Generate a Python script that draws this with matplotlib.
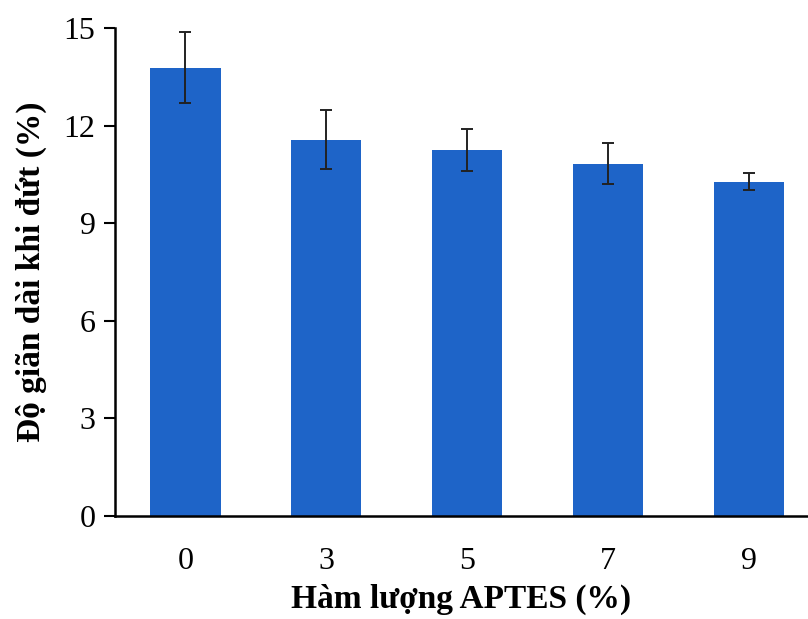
import numpy as np
import matplotlib.pyplot as plt

# APTES content (%) vs elongation at break (%)
categories = ['0', '3', '5', '7', '9']
values = [13.78, 11.57, 11.26, 10.83, 10.28]
errors = [1.10, 0.90, 0.65, 0.62, 0.27]

plt.rcParams['font.family'] = ['Liberation Serif', 'DejaVu Serif']

fig = plt.figure(figsize=(8.08, 6.19), dpi=100)
ax = fig.add_axes([0.1423, 0.1664, 0.8577, 0.7884])

x = np.arange(len(categories))
ax.bar(x, values, width=0.5, color='#1e64c8', zorder=2)
ax.errorbar(x, values, yerr=errors, fmt='none', ecolor='#222222',
            elinewidth=1.4, capsize=4.5, capthick=1.4, zorder=3)

ax.set_xlim(-0.5, 4.42)
ax.set_ylim(0, 15)
ax.set_yticks([0, 3, 6, 9, 12, 15])
ax.set_xticks(x)
ax.set_xticklabels(categories)

ax.spines['top'].set_visible(False)
ax.spines['right'].set_visible(False)
ax.spines['left'].set_linewidth(1.8)
ax.spines['bottom'].set_linewidth(1.8)
ax.tick_params(axis='y', direction='out', length=8, width=1.5, labelsize=23, pad=6)
ax.tick_params(axis='x', length=0, labelsize=23, pad=22)

ax.set_xlabel('Hàm lượng APTES (%)', fontsize=24, fontweight='bold', labelpad=6)
ax.set_ylabel('Độ giãn dài khi đứt (%)', fontsize=24, fontweight='bold', labelpad=12)

fig.savefig('out.png', dpi=100)
